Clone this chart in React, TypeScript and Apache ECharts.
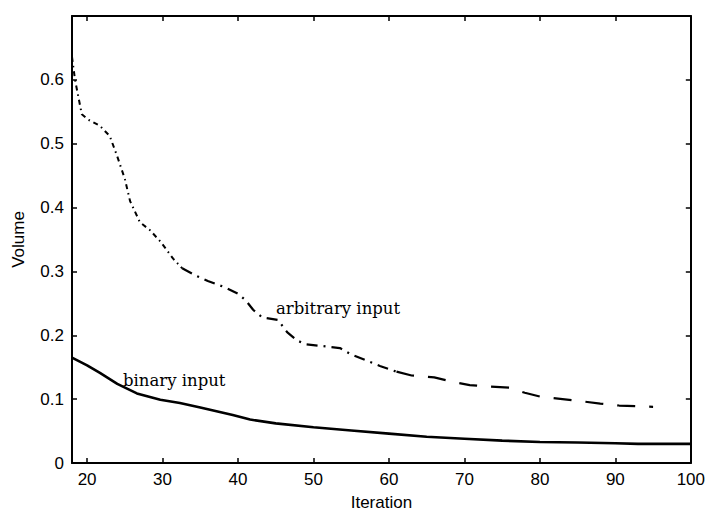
import React, { useEffect, useRef } from "react";
import * as echarts from "echarts";

// Iteration ticks and values
const xTicks = [20, 30, 40, 50, 60, 70, 80, 90, 100];

const binaryIter = [18, 20, 21.7, 24, 26.6, 29.7, 32.3, 35, 39.3, 41.6, 45, 50, 55, 60, 65, 70, 75, 80, 85, 90, 93, 100];
const binaryVol = [0.165, 0.153, 0.141, 0.124, 0.109, 0.099, 0.094, 0.087, 0.075, 0.068, 0.062, 0.056, 0.051, 0.046, 0.041, 0.038, 0.035, 0.033, 0.032, 0.031, 0.03, 0.03];

const arbIter = [18, 18.4, 19.3, 20.1, 21.7, 23, 24, 25, 25.7, 27, 28.3, 29.7, 31.4, 32.6, 34.5, 36, 38.3, 40, 41, 42, 43.2, 45.3, 46.5, 47.8, 49, 53.5, 55, 58.8, 61, 63, 66, 68.5, 70.7, 73, 76, 78, 80, 83, 86, 88, 90.5, 95];
const arbVol = [0.636, 0.6, 0.546, 0.538, 0.528, 0.512, 0.48, 0.445, 0.41, 0.377, 0.365, 0.347, 0.32, 0.305, 0.293, 0.285, 0.275, 0.265, 0.255, 0.24, 0.228, 0.224, 0.205, 0.192, 0.186, 0.18, 0.17, 0.152, 0.143, 0.137, 0.134, 0.127, 0.122, 0.12, 0.118, 0.11, 0.104, 0.1, 0.096, 0.093, 0.09, 0.088];

const labels = [
  { text: "arbitrary input", left: 276, top: 300 },
  { text: "binary input", left: 123, top: 372 },
];

const pairs = (xs: number[], ys: number[], lo: number, hi: number) =>
  xs.map((x, i) => [x, ys[i]]).filter((p) => p[0] >= lo && p[0] <= hi);

export default function App() {
  const ref = useRef<HTMLDivElement>(null);
  useEffect(() => {
    if (!ref.current) return;
    const chart = echarts.init(ref.current, undefined, { renderer: "svg" });
    const sans = "Liberation Sans";
    const axisLine = { show: true, onZero: false, lineStyle: { color: "#000", width: 2 } };
    const tick = { show: true, inside: true, length: 5, lineStyle: { color: "#000", width: 1.5 } };
    const lineBase = { type: "line", showSymbol: false, symbol: "none", silent: true };
    chart.setOption({
      animation: false,
      backgroundColor: "#fff",
      grid: { left: 72, right: 17, top: 16, bottom: 43 },
      xAxis: [
        {
          type: "value", min: 18, max: 100, position: "bottom",
          axisLine, axisTick: { ...tick, customValues: xTicks },
          axisLabel: { customValues: xTicks, color: "#000", fontSize: 17, fontFamily: sans, margin: 8 },
          splitLine: { show: false },
          name: "Iteration", nameLocation: "middle", nameGap: 31,
          nameTextStyle: { color: "#000", fontSize: 17, fontFamily: sans },
        },
        {
          type: "value", min: 18, max: 100, position: "top",
          axisLine, axisTick: { ...tick, customValues: xTicks },
          axisLabel: { show: false }, splitLine: { show: false },
        },
      ],
      yAxis: [
        {
          type: "value", min: 0, max: 0.7, interval: 0.1, position: "left",
          axisLine, axisTick: tick,
          axisLabel: {
            color: "#000", fontSize: 17, fontFamily: sans, margin: 8,
            formatter: (v: number) => (v > 0.65 ? "" : v === 0 ? "0" : v.toFixed(1)),
          },
          splitLine: { show: false },
          name: "Volume", nameLocation: "middle", nameGap: 45, nameRotate: 90,
          nameTextStyle: { color: "#000", fontSize: 17, fontFamily: sans },
        },
        {
          type: "value", min: 0, max: 0.7, interval: 0.1, position: "right",
          axisLine, axisTick: tick, axisLabel: { show: false }, splitLine: { show: false },
        },
      ],
      series: [
        {
          ...lineBase, name: "binary input",
          data: pairs(binaryIter, binaryVol, 0, 200),
          lineStyle: { color: "#000", width: 2.6 },
        },
        {
          ...lineBase, name: "arbitrary input a",
          data: pairs(arbIter, arbVol, 0, 32.6),
          lineStyle: { color: "#000", width: 2, type: [5, 4, 1.5, 4] },
        },
        {
          ...lineBase, name: "arbitrary input b",
          data: pairs(arbIter, arbVol, 32.6, 61),
          lineStyle: { color: "#000", width: 2.2, type: [11, 6, 2, 6] },
        },
        {
          ...lineBase, name: "arbitrary input c",
          data: pairs(arbIter, arbVol, 61, 200),
          lineStyle: { color: "#000", width: 2.2, type: [18, 14] },
        },
      ],
      graphic: labels.map((l) => ({
        type: "text", left: l.left, top: l.top,
        style: {
          text: l.text, fill: "#000", fontSize: 16.5, fontFamily: "DejaVu Serif",
        },
      })),
    });
    return () => chart.dispose();
  }, []);
  return (
    <div
      ref={ref}
      style={{ position: "fixed", left: 0, top: 0, width: 708, height: 516, background: "#fff" }}
    />
  );
}
